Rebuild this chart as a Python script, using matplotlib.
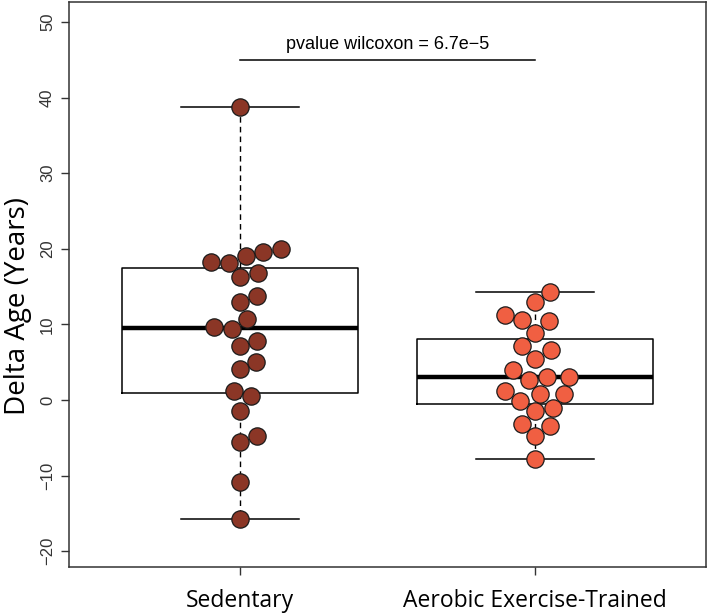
import numpy as np
import matplotlib
matplotlib.use("Agg")
import matplotlib.pyplot as plt

groups = ["Sedentary", "Aerobic Exercise-Trained"]
sedentary = [38.8, 20.0, 19.6, 19.0, 18.22, 18.16, 16.8, 16.3, 13.7, 12.9, 10.7,
             9.6, 9.35, 7.8, 7.2, 5.07, 4.06, 1.25, 0.5, -1.4, -4.8, -5.5,
             -10.9, -15.8]
aerobic = [14.3, 12.9, 11.2, 10.6, 10.4, 8.9, 7.1, 6.6, 5.4, 3.9, 3.1, 3.0,
           2.7, 1.2, 0.8, 0.8, -0.13, -1.0, -1.5, -3.2, -3.4, -4.8, -7.8]
data = [sedentary, aerobic]
colors = ["#8B3626", "#F05F42"]
pvalue_text = "pvalue wilcoxon = 6.7e\u22125"
yticks = [-20, -10, 0, 10, 20, 30, 40, 50]


def fivenum(v):
    v = np.sort(np.asarray(v, float))
    n = len(v)
    n4 = np.floor((n + 3) / 2) / 2
    d = np.array([1, n4, (n + 1) / 2, n + 1 - n4, n]) - 1
    return 0.5 * (v[np.floor(d).astype(int)] + v[np.ceil(d).astype(int)])


def box_stats(v):
    mn, q1, med, q3, mx = fivenum(v)
    iqr = q3 - q1
    arr = np.asarray(v)
    lo = arr[arr >= q1 - 1.5 * iqr].min()
    hi = arr[arr <= q3 + 1.5 * iqr].max()
    return dict(med=med, q1=q1, q3=q3, whislo=lo, whishi=hi, fliers=[])


fig = plt.figure(figsize=(7.09, 6.16), dpi=100)
ax = fig.add_axes([0.0973, 0.0795, 0.8985, 0.9173])
ax.set_xlim(0.42, 2.58)
ax.set_ylim(-22.1, 52.65)

stats = [box_stats(v) for v in data]
ax.bxp(stats, positions=[1, 2], widths=0.8, showfliers=False,
       boxprops=dict(color="black", linewidth=1.1),
       medianprops=dict(color="black", linewidth=3.2),
       whiskerprops=dict(color="black", linewidth=1.0, linestyle=(0, (4, 3))),
       capprops=dict(color="black", linewidth=1.1),
       capwidths=0.4, zorder=1)

# beeswarm layout in pixel space
fig.canvas.draw()
diam_px = 18.0
for i, (vals, col) in enumerate(zip(data, colors)):
    pos = i + 1
    order = np.argsort(vals, kind="stable")
    pts = ax.transData.transform([(pos, v) for v in vals])
    cx = pts[0, 0]
    placed = []
    xs_px = np.zeros(len(vals))
    for k in order:
        y = pts[k, 1]
        cands = [0.0]
        for (px, py) in placed:
            dy = abs(py - y)
            if dy < diam_px:
                dx = np.sqrt(diam_px ** 2 - dy ** 2)
                cands += [px + dx, px - dx]
        cands = sorted(set(cands), key=lambda c: (abs(c), -c))
        for c in cands:
            ok = True
            for (px, py) in placed:
                if (px - c) ** 2 + (py - y) ** 2 < diam_px ** 2 - 1e-6:
                    ok = False
                    break
            if ok:
                xs_px[k] = c
                placed.append((c, y))
                break
    xs = [ax.transData.inverted().transform((cx + xs_px[k], pts[k, 1]))[0]
          for k in range(len(vals))]
    ax.scatter(xs, vals, s=155, c=col, edgecolors="#1a1a1a",
               linewidths=0.9, zorder=3)

ax.plot([1, 2], [45, 45], color="black", linewidth=1.1)
ax.text(1.5, 45.9, pvalue_text, ha="center", va="bottom",
        fontsize=13, family="Liberation Sans")

ax.set_yticks(yticks)
ax.set_yticklabels([str(t).replace("-", "\u2212") for t in yticks],
                   rotation=90, va="center", fontsize=12,
                   family="Liberation Sans", color="#333333")
ax.set_xticks([1, 2])
ax.set_xticklabels(groups, fontsize=16.5, family="Open Sans")
ax.tick_params(axis="both", length=6, width=1, color="#333333")
ax.tick_params(axis="y", pad=4)
ax.tick_params(axis="x", pad=10)
ax.set_ylabel("Delta Age (Years)", fontsize=20, family="Open Sans",
              va="center")
ax.yaxis.set_label_coords(-0.080, 0.462)
for s in ax.spines.values():
    s.set_linewidth(1.1)
    s.set_color("#333333")

fig.savefig("out.png", dpi=100)
